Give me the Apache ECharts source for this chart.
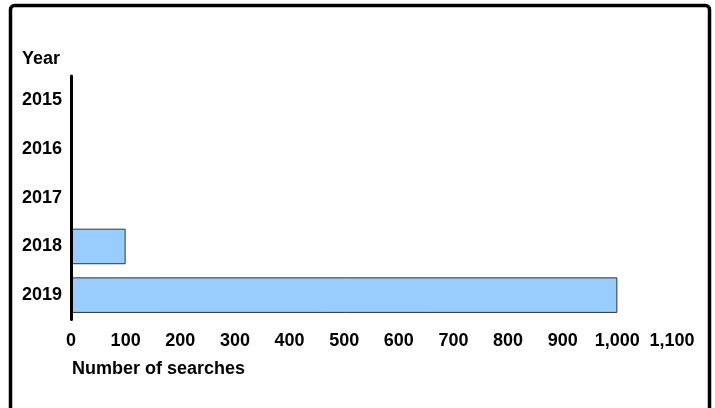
<!DOCTYPE html>
<html>
<head>
<meta charset="utf-8">
<script src="https://cdn.jsdelivr.net/npm/echarts@6/dist/echarts.min.js"></script>
<style>
html,body{margin:0;padding:0;background:#fff;}
#chart{width:715px;height:408px;}
</style>
</head>
<body>
<div id="chart"></div>
<script>
const categories = ['2015', '2016', '2017', '2018', '2019'];
const searches = [0, 0, 0, 100, 1000];
const xTicks = { min: 0, max: 1100, interval: 100 };
const yTitle = 'Year';
const xTitle = 'Number of searches';

const chart = echarts.init(document.getElementById('chart'));
const font = { fontFamily: 'Liberation Sans, Arial, sans-serif', fontWeight: 'bold', fontSize: 18, color: '#000' };
chart.setOption({
  animation: false,
  backgroundColor: '#fff',
  title: [
    { text: yTitle, left: 22, top: 50, padding: 0, textStyle: font },
    { text: xTitle, left: 72, top: 360, padding: 0, textStyle: font }
  ],
  graphic: [{
    type: 'rect',
    shape: { x: 10.5, y: 5.5, width: 699, height: 460, r: 4 },
    style: { fill: 'none', stroke: '#000', lineWidth: 3.5 },
    silent: true
  }],
  grid: { left: 71, right: 43, top: 76, bottom: 88.5, containLabel: false },
  xAxis: {
    type: 'value',
    min: xTicks.min, max: xTicks.max, interval: xTicks.interval,
    axisLine: { show: false },
    axisTick: { show: false },
    splitLine: { show: false },
    axisLabel: Object.assign({ margin: 13, formatter: v => v.toLocaleString('en-US') }, font)
  },
  yAxis: {
    type: 'category',
    data: categories,
    inverse: true,
    z: 5,
    axisLine: { show: true, lineStyle: { color: '#000', width: 3 } },
    axisTick: { show: false },
    splitLine: { show: false },
    axisLabel: Object.assign({ margin: 9 }, font)
  },
  series: [{
    type: 'bar',
    data: searches,
    barWidth: '73%',
    z: 2,
    itemStyle: { color: '#99ccff', borderColor: '#333', borderWidth: 1 }
  }]
});
</script>
</body>
</html>
